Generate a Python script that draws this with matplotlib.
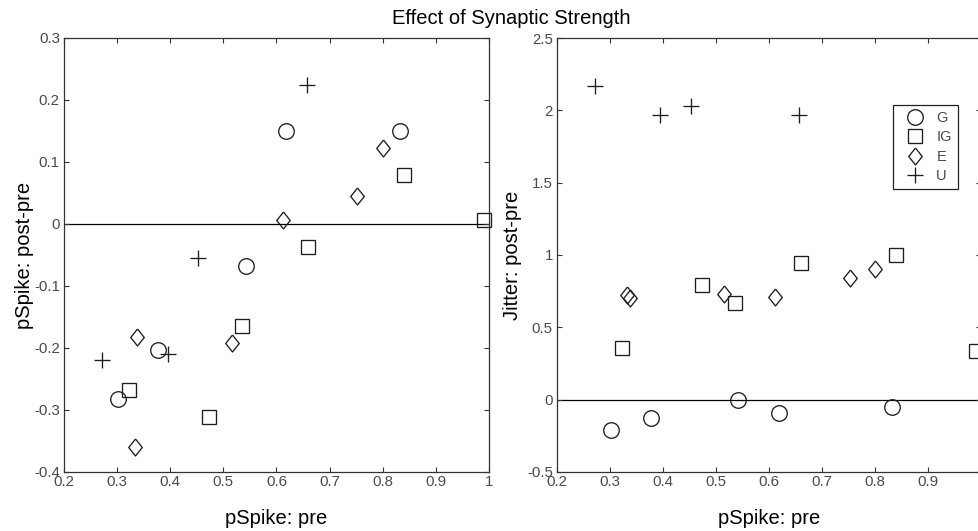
import matplotlib
matplotlib.use("Agg")
import matplotlib.pyplot as plt
from matplotlib.lines import Line2D
from matplotlib.ticker import FixedLocator, FixedFormatter

# ---------------- data ----------------
groups = ["G", "IG", "E", "U"]

G_pre = [0.301, 0.377, 0.542, 0.618, 0.833]
G_dp = [-0.282, -0.203, -0.068, 0.150, 0.150]
G_jit = [-0.21, -0.125, 0.0, -0.09, -0.05]

IG_pre = [0.323, 0.473, 0.535, 0.660, 0.840, 0.990]
IG_dp = [-0.268, -0.311, -0.165, -0.037, 0.079, 0.007]
IG_jit = [0.36, 0.79, 0.67, 0.944, 1.0, 0.335]

E_pre = [0.333, 0.337, 0.516, 0.612, 0.752, 0.800]
E_dp = [-0.36, -0.182, -0.192, 0.006, 0.045, 0.123]
E_jit = [0.723, 0.70, 0.73, 0.71, 0.84, 0.90]

U_pre = [0.271, 0.395, 0.452, 0.657]
U_dp = [-0.22, -0.21, -0.055, 0.224]
U_jit = [2.17, 1.97, 2.03, 1.97]

x_ticks = [0.2, 0.3, 0.4, 0.5, 0.6, 0.7, 0.8, 0.9, 1.0]
x_ticklabels = ["0.2", "0.3", "0.4", "0.5", "0.6", "0.7", "0.8", "0.9", "1"]
y1_ticks = [-0.4, -0.3, -0.2, -0.1, 0.0, 0.1, 0.2, 0.3]
y1_ticklabels = ["-0.4", "-0.3", "-0.2", "-0.1", "0", "0.1", "0.2", "0.3"]
y2_ticks = [-0.5, 0.0, 0.5, 1.0, 1.5, 2.0, 2.5]
y2_ticklabels = ["-0.5", "0", "0.5", "1", "1.5", "2", "2.5"]

title = "Effect of Synaptic Strength"
xlabel = "pSpike: pre"
ylabel1 = "pSpike: post-pre"
ylabel2 = "Jitter: post-pre"

# ---------------- style ----------------
plt.rcParams["font.family"] = ["Liberation Sans", "DejaVu Sans"]
W, H = 979, 531
fig = plt.figure(figsize=(W / 100, H / 100), dpi=100)

diamond = [(0, 1), (0.8, 0), (0, -1), (-0.8, 0), (0, 1)]
mstyle = {
    "G": dict(marker="o", ms=11.2),
    "IG": dict(marker="s", ms=9.8),
    "E": dict(marker=diamond, ms=12.2),
    "U": dict(marker="+", ms=11.5),
}
mcol = "#1e1e1e"
tick_col = "#4a4a4a"
spine_col = "#333333"

ax1 = fig.add_axes([64 / W, 1 - 472 / H, 425 / W, 434 / H])
ax2 = fig.add_axes([557 / W, 1 - 472 / H, 424 / W, 434 / H])

data1 = {"G": (G_pre, G_dp), "IG": (IG_pre, IG_dp), "E": (E_pre, E_dp), "U": (U_pre, U_dp)}
data2 = {"G": (G_pre, G_jit), "IG": (IG_pre, IG_jit), "E": (E_pre, E_jit), "U": (U_pre, U_jit)}


def style_axes(ax, yticks, yticklabels, ylim, ylabel, ylab_x):
    ax.set_xlim(0.2, 1.0)
    ax.set_ylim(*ylim)
    ax.axhline(0, color="black", lw=0.9, zorder=1)
    ax.xaxis.set_major_locator(FixedLocator(x_ticks))
    ax.xaxis.set_major_formatter(FixedFormatter(x_ticklabels))
    ax.yaxis.set_major_locator(FixedLocator(yticks))
    ax.yaxis.set_major_formatter(FixedFormatter(yticklabels))
    ax.tick_params(direction="in", top=True, right=True, length=3.5, width=0.8,
                   colors=spine_col, labelcolor=tick_col, labelsize=10.8)
    ax.tick_params(axis="x", pad=2.0)
    ax.tick_params(axis="y", pad=3)
    for s in ax.spines.values():
        s.set_color(spine_col)
        s.set_linewidth(0.9)
    ax.set_xlabel(xlabel, fontsize=14.5, color="black")
    ax.xaxis.set_label_coords(0.5, -(518 - 472) / 434)
    ax.xaxis.label.set_va("center")
    ax.set_ylabel(ylabel, fontsize=14.5, color="black")
    ax.yaxis.set_label_coords(ylab_x, 0.5)
    ax.yaxis.label.set_va("center")


for ax, data in ((ax1, data1), (ax2, data2)):
    for g in groups:
        xs, ys = data[g]
        ax.plot(xs, ys, linestyle="none", marker=mstyle[g]["marker"],
                ms=mstyle[g]["ms"], mfc="none", mec=mcol, mew=0.95,
                clip_on=False, zorder=3)

style_axes(ax1, y1_ticks, y1_ticklabels, (-0.4, 0.3), ylabel1, (25 - 64) / 425)
style_axes(ax2, y2_ticks, y2_ticklabels, (-0.5, 2.5), ylabel2, (513 - 557) / 424)

handles = [Line2D([], [], linestyle="none", marker=mstyle[g]["marker"],
                  ms=mstyle[g]["ms"], mfc="none", mec=mcol, mew=0.95) for g in groups]
leg = ax2.legend(handles, groups, loc="upper left",
                 bbox_to_anchor=(893 / W, 1 - 105 / H), bbox_transform=fig.transFigure,
                 borderaxespad=0, fancybox=False, framealpha=1, edgecolor="#222222",
                 fontsize=10.5, numpoints=1, handlelength=2.2, handletextpad=0.35,
                 labelspacing=0.36, borderpad=0.42)
leg.get_frame().set_linewidth(0.9)
for t in leg.get_texts():
    t.set_color(tick_col)

fig.text(511 / W, 1 - 18 / H, title, ha="center", va="center", fontsize=14.5, color="black")

fig.savefig("out.png", dpi=100)
